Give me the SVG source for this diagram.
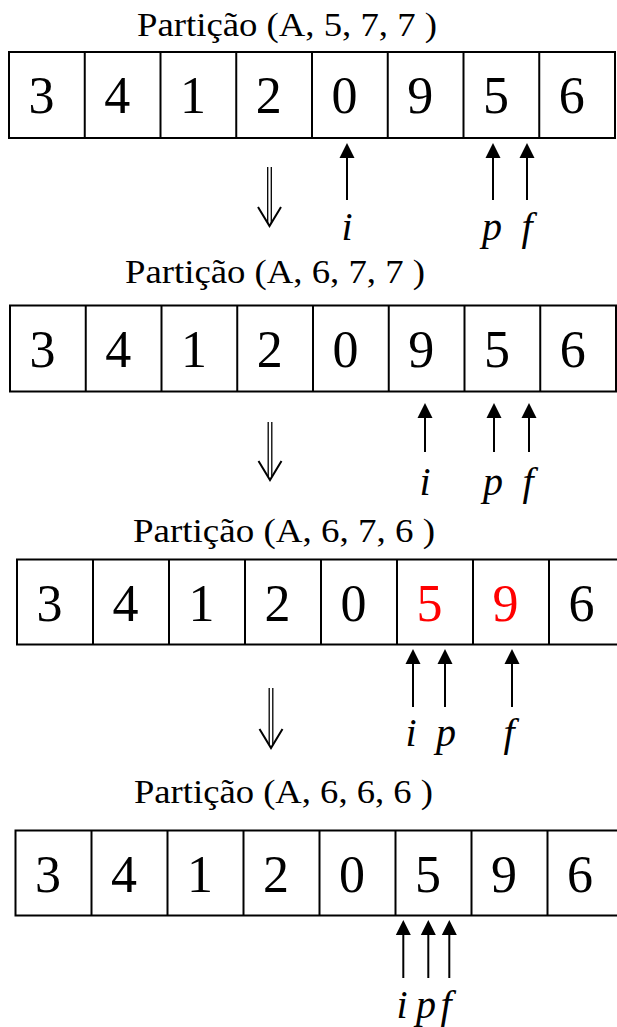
<svg xmlns="http://www.w3.org/2000/svg" width="617" height="1027" viewBox="0 0 617 1027">
<defs>
<style>
text{font-family:"Liberation Serif",Tinos,"Times New Roman",Times,serif}
.title{font-size:34px;fill:#000}
.cell{fill:#fff;stroke:#000;stroke-width:2}
.div{stroke:#000;stroke-width:2}
.num{font-size:52px;fill:#000;text-anchor:middle}
.red{fill:#ff0000}
.lbl{font-style:italic;font-size:40px;fill:#000;text-anchor:middle}
.ptr{stroke:#000;stroke-width:2;fill:none}
.dbl{stroke:#000;stroke-width:1.3;fill:none}
.vh{stroke:#000;stroke-width:2;fill:none}
</style>
<marker id="ah" markerWidth="16" markerHeight="16" refX="0" refY="0" viewBox="0 -8 16 16" orient="auto" markerUnits="userSpaceOnUse">
<path d="M0,-7.5 L15,0 L0,7.5 Z" fill="#000"/>
</marker>
</defs>

<!-- Row 1 -->
<g id="row1" font-family="Liberation Serif, serif">
<text class="title" x="137" y="36" textLength="300" lengthAdjust="spacingAndGlyphs">Partição (A, 5, 7, 7 )</text>
<rect class="cell" x="9" y="52" width="606" height="86"/>
<line class="div" x1="84.75" y1="52" x2="84.75" y2="138"/>
<line class="div" x1="160.5" y1="52" x2="160.5" y2="138"/>
<line class="div" x1="236.25" y1="52" x2="236.25" y2="138"/>
<line class="div" x1="312" y1="52" x2="312" y2="138"/>
<line class="div" x1="387.75" y1="52" x2="387.75" y2="138"/>
<line class="div" x1="463.5" y1="52" x2="463.5" y2="138"/>
<line class="div" x1="539.25" y1="52" x2="539.25" y2="138"/>
<text class="num" x="41.5" y="113">3</text>
<text class="num" x="117.25" y="113">4</text>
<text class="num" x="193" y="113">1</text>
<text class="num" x="268.75" y="113">2</text>
<text class="num" x="344.5" y="113">0</text>
<text class="num" x="420.25" y="113">9</text>
<text class="num" x="496" y="113">5</text>
<text class="num" x="571.75" y="113">6</text>
<text class="lbl" x="347" y="240">i</text>
<text class="lbl" x="492" y="240">p</text>
<text class="lbl" x="527" y="240">f</text>
</g>

<!-- Row 2 -->
<g id="row2">
<text class="title" x="125" y="283" textLength="300" lengthAdjust="spacingAndGlyphs">Partição (A, 6, 7, 7 )</text>
<rect class="cell" x="10" y="305.5" width="606" height="86"/>
<line class="div" x1="85.75" y1="305.5" x2="85.75" y2="391.5"/>
<line class="div" x1="161.5" y1="305.5" x2="161.5" y2="391.5"/>
<line class="div" x1="237.25" y1="305.5" x2="237.25" y2="391.5"/>
<line class="div" x1="313" y1="305.5" x2="313" y2="391.5"/>
<line class="div" x1="388.75" y1="305.5" x2="388.75" y2="391.5"/>
<line class="div" x1="464.5" y1="305.5" x2="464.5" y2="391.5"/>
<line class="div" x1="540.25" y1="305.5" x2="540.25" y2="391.5"/>
<text class="num" x="42.5" y="367">3</text>
<text class="num" x="118.25" y="367">4</text>
<text class="num" x="194" y="367">1</text>
<text class="num" x="269.75" y="367">2</text>
<text class="num" x="345.5" y="367">0</text>
<text class="num" x="421.25" y="367">9</text>
<text class="num" x="497" y="367">5</text>
<text class="num" x="572.75" y="367">6</text>
<text class="lbl" x="425" y="495">i</text>
<text class="lbl" x="493" y="495">p</text>
<text class="lbl" x="528" y="495">f</text>
</g>

<!-- Row 3 -->
<g id="row3">
<text class="title" x="133" y="542" textLength="302" lengthAdjust="spacingAndGlyphs">Partição (A, 6, 7, 6 )</text>
<rect class="cell" x="17" y="559.5" width="608" height="85"/>
<line class="div" x1="93" y1="559.5" x2="93" y2="644.5"/>
<line class="div" x1="169" y1="559.5" x2="169" y2="644.5"/>
<line class="div" x1="245" y1="559.5" x2="245" y2="644.5"/>
<line class="div" x1="321" y1="559.5" x2="321" y2="644.5"/>
<line class="div" x1="397" y1="559.5" x2="397" y2="644.5"/>
<line class="div" x1="473" y1="559.5" x2="473" y2="644.5"/>
<line class="div" x1="549" y1="559.5" x2="549" y2="644.5"/>
<text class="num" x="49.5" y="621">3</text>
<text class="num" x="125.5" y="621">4</text>
<text class="num" x="201.5" y="621">1</text>
<text class="num" x="277.5" y="621">2</text>
<text class="num" x="353.5" y="621">0</text>
<text class="num red" x="429.5" y="621">5</text>
<text class="num red" x="505.5" y="621">9</text>
<text class="num" x="581.5" y="621">6</text>
<text class="lbl" x="411" y="746">i</text>
<text class="lbl" x="446" y="746">p</text>
<text class="lbl" x="509" y="746">f</text>
</g>

<!-- Row 4 -->
<g id="row4">
<text class="title" x="134" y="803" textLength="299" lengthAdjust="spacingAndGlyphs">Partição (A, 6, 6, 6 )</text>
<rect class="cell" x="15.5" y="830.5" width="608" height="85"/>
<line class="div" x1="91.5" y1="830.5" x2="91.5" y2="915.5"/>
<line class="div" x1="167.5" y1="830.5" x2="167.5" y2="915.5"/>
<line class="div" x1="243.5" y1="830.5" x2="243.5" y2="915.5"/>
<line class="div" x1="319.5" y1="830.5" x2="319.5" y2="915.5"/>
<line class="div" x1="395.5" y1="830.5" x2="395.5" y2="915.5"/>
<line class="div" x1="471.5" y1="830.5" x2="471.5" y2="915.5"/>
<line class="div" x1="547.5" y1="830.5" x2="547.5" y2="915.5"/>
<text class="num" x="48" y="892">3</text>
<text class="num" x="124" y="892">4</text>
<text class="num" x="200" y="892">1</text>
<text class="num" x="276" y="892">2</text>
<text class="num" x="352" y="892">0</text>
<text class="num" x="428" y="892">5</text>
<text class="num" x="504" y="892">9</text>
<text class="num" x="580" y="892">6</text>
<text class="lbl" x="402" y="1018">i</text>
<text class="lbl" x="426" y="1018">p</text>
<text class="lbl" x="446" y="1018">f</text>
</g>

<!-- Connectors -->
<g id="connectors">
<line class="ptr" x1="347" y1="200" x2="347" y2="158" marker-end="url(#ah)"/>
<line class="ptr" x1="493" y1="200" x2="493" y2="158" marker-end="url(#ah)"/>
<line class="ptr" x1="527" y1="200" x2="527" y2="158" marker-end="url(#ah)"/>

<line class="ptr" x1="425" y1="452" x2="425" y2="418" marker-end="url(#ah)"/>
<line class="ptr" x1="494" y1="452" x2="494" y2="418" marker-end="url(#ah)"/>
<line class="ptr" x1="529" y1="452" x2="529" y2="418" marker-end="url(#ah)"/>

<line class="ptr" x1="413" y1="707" x2="413" y2="664" marker-end="url(#ah)"/>
<line class="ptr" x1="445" y1="707" x2="445" y2="664" marker-end="url(#ah)"/>
<line class="ptr" x1="512" y1="707" x2="512" y2="664" marker-end="url(#ah)"/>

<line class="ptr" x1="403.3" y1="978" x2="403.3" y2="935" marker-end="url(#ah)"/>
<line class="ptr" x1="428.3" y1="978" x2="428.3" y2="935" marker-end="url(#ah)"/>
<line class="ptr" x1="449.3" y1="978" x2="449.3" y2="935" marker-end="url(#ah)"/>

<path class="dbl" d="M267.7,167 V223 M271.3,167 V223"/>
<path class="vh" d="M258,207 L269.5,226 L281,207"/>
<path class="dbl" d="M268.2,422 V477 M271.8,422 V477"/>
<path class="vh" d="M258.5,461 L270,480 L281.5,461"/>
<path class="dbl" d="M269.2,688 V745 M272.8,688 V745"/>
<path class="vh" d="M259.5,729 L271,748 L282.5,729"/>
</g>
</svg>
